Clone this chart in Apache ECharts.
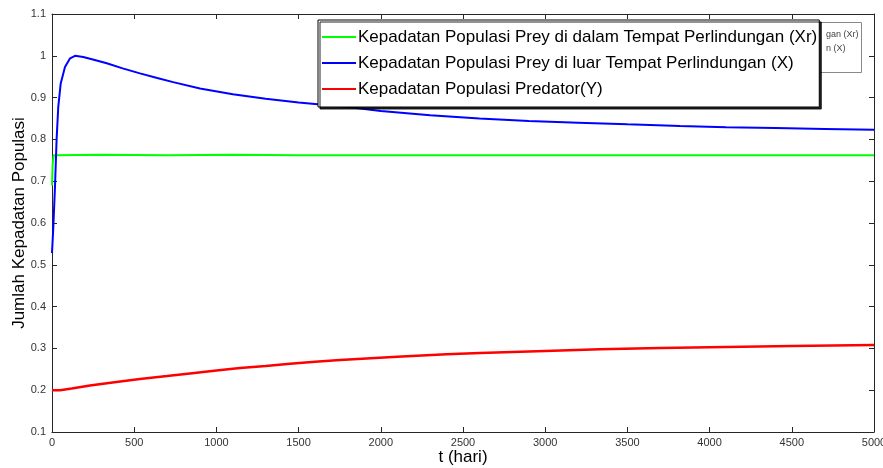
<!DOCTYPE html>
<html>
<head>
<meta charset="utf-8">
<script src="https://cdn.jsdelivr.net/npm/echarts@6/dist/echarts.min.js"></script>
<style>
html,body{margin:0;padding:0;background:#fff;}
#chart{width:883px;height:468px;}
</style>
</head>
<body>
<div id="chart"></div>
<script>
// ---- data ----
const xTicks = [0, 500, 1000, 1500, 2000, 2500, 3000, 3500, 4000, 4500, 5000];
const yTicks = [0.1, 0.2, 0.3, 0.4, 0.5, 0.6, 0.7, 0.8, 0.9, 1, 1.1];

const seriesNames = [
  'Kepadatan Populasi Prey di dalam Tempat Perlindungan (Xr)',
  'Kepadatan Populasi Prey di luar Tempat Perlindungan (X)',
  'Kepadatan Populasi Predator(Y)'
];

const tXr = [0, 4, 10, 20, 300, 700, 1100, 1500, 1900, 2300, 2700, 3100, 3500, 3900, 4300, 4700, 5000];
const valXr = [0.69, 0.74, 0.762, 0.763, 0.763, 0.762, 0.763, 0.762, 0.762, 0.762, 0.762, 0.762, 0.762, 0.762, 0.762, 0.762, 0.762];

const tX = [0, 8, 18, 28, 38, 53, 79, 110, 140, 190, 260, 333, 430, 535, 640, 737, 900, 1100, 1300, 1500, 1813, 2000, 2300, 2600, 2900, 3200, 3500, 3820, 4100, 4400, 4700, 5000];
const valX = [0.528, 0.59, 0.685, 0.80, 0.877, 0.934, 0.973, 0.994, 1.0, 0.997, 0.990, 0.982, 0.970, 0.958, 0.947, 0.937, 0.922, 0.908, 0.897, 0.888, 0.877, 0.868, 0.858, 0.850, 0.844, 0.840, 0.836, 0.832, 0.829, 0.827, 0.825, 0.823];

const tY = [0, 49, 120, 231, 380, 535, 700, 839, 1000, 1144, 1300, 1448, 1600, 1752, 2100, 2400, 2603, 3000, 3333, 3700, 4000, 4500, 5000];
const valY = [0.2, 0.200, 0.204, 0.211, 0.219, 0.227, 0.234, 0.240, 0.247, 0.253, 0.258, 0.263, 0.268, 0.272, 0.280, 0.286, 0.289, 0.294, 0.298, 0.301, 0.303, 0.306, 0.308];

const colors = ['#00ff00', '#0000ff', '#ff0000'];

function pairs(t, v) { return t.map((x, i) => [x, v[i]]); }

const chart = echarts.init(document.getElementById('chart'), null, {renderer: 'canvas'});

const axisLineStyle = {color: '#262626', width: 1};
const tickStyle = {show: true, inside: true, length: 5, lineStyle: {color: '#262626', width: 1}};
const labelFont = {color: '#333', fontSize: 11, fontFamily: 'Liberation Sans, Arial, sans-serif'};

const option = {
  animation: false,
  backgroundColor: '#ffffff',
  grid: {left: 52, right: 9, top: 14, bottom: 36, containLabel: false, outerBoundsMode: 'none'},
  xAxis: [{
    type: 'value', min: xTicks[0], max: xTicks[xTicks.length - 1], interval: xTicks[1] - xTicks[0],
    position: 'bottom',
    name: 't (hari)', nameLocation: 'middle', nameGap: 17, nameMoveOverlap: false,
    nameTextStyle: {color: '#000', fontSize: 17, fontFamily: 'Liberation Sans, Arial, sans-serif'},
    axisLine: {show: true, onZero: false, lineStyle: axisLineStyle},
    axisTick: tickStyle,
    axisLabel: Object.assign({margin: 5, showMaxLabel: true, hideOverlap: false, formatter: v => String(v)}, labelFont),
    splitLine: {show: false}
  }, {
    type: 'value', min: xTicks[0], max: xTicks[xTicks.length - 1], interval: xTicks[1] - xTicks[0],
    position: 'top',
    axisLine: {show: true, onZero: false, lineStyle: axisLineStyle},
    axisTick: tickStyle,
    axisLabel: {show: false},
    splitLine: {show: false}
  }],
  yAxis: [{
    type: 'value', min: yTicks[0], max: yTicks[yTicks.length - 1], interval: 0.1,
    position: 'left',
    name: 'Jumlah Kepadatan Populasi', nameLocation: 'middle', nameGap: 24, nameRotate: 90, nameMoveOverlap: false,
    nameTextStyle: {color: '#000', fontSize: 17, fontFamily: 'Liberation Sans, Arial, sans-serif'},
    axisLine: {show: true, onZero: false, lineStyle: axisLineStyle},
    axisTick: tickStyle,
    axisLabel: Object.assign({margin: 6, formatter: v => String(+v.toFixed(1))}, labelFont),
    splitLine: {show: false}
  }, {
    type: 'value', min: yTicks[0], max: yTicks[yTicks.length - 1], interval: 0.1,
    position: 'right',
    axisLine: {show: true, onZero: false, lineStyle: axisLineStyle},
    axisTick: tickStyle,
    axisLabel: {show: false},
    splitLine: {show: false}
  }],
  legend: {
    left: 318, top: 20, orient: 'vertical',
    backgroundColor: '#ffffff',
    borderColor: '#000', borderWidth: 1,
    shadowColor: 'rgba(0,0,0,0.85)', shadowOffsetX: 2, shadowOffsetY: 2, shadowBlur: 0,
    padding: [7, 2, 8, 4],
    itemGap: 6,
    itemWidth: 34, itemHeight: 2,
    icon: 'rect',
    textStyle: {color: '#000', fontSize: 17, lineHeight: 20, fontFamily: 'Liberation Sans, Arial, sans-serif', padding: [0, 0, 0, -3]},
    data: seriesNames,
    z: 10
  },
  graphic: [
    {type: 'rect', left: 800, top: 22, z: 1, shape: {width: 61, height: 50}, style: {fill: '#fff', stroke: '#888', lineWidth: 1}},
    {type: 'text', left: 826, top: 30, z: 2, style: {text: 'gan (Xr)', fill: '#444', font: '9px Liberation Sans, Arial, sans-serif'}},
    {type: 'text', left: 826, top: 44, z: 2, style: {text: 'n (X)', fill: '#444', font: '9px Liberation Sans, Arial, sans-serif'}}
  ],
  series: [
    {name: seriesNames[0], type: 'line', data: pairs(tXr, valXr), showSymbol: false, symbol: 'none', lineStyle: {color: colors[0], width: 2}, itemStyle: {color: colors[0]}, z: 3},
    {name: seriesNames[1], type: 'line', data: pairs(tX, valX), showSymbol: false, symbol: 'none', lineStyle: {color: colors[1], width: 2}, itemStyle: {color: colors[1]}, z: 4},
    {name: seriesNames[2], type: 'line', data: pairs(tY, valY), showSymbol: false, symbol: 'none', lineStyle: {color: colors[2], width: 2.5}, itemStyle: {color: colors[2]}, z: 4}
  ]
};
chart.setOption(option);
</script>
</body>
</html>
